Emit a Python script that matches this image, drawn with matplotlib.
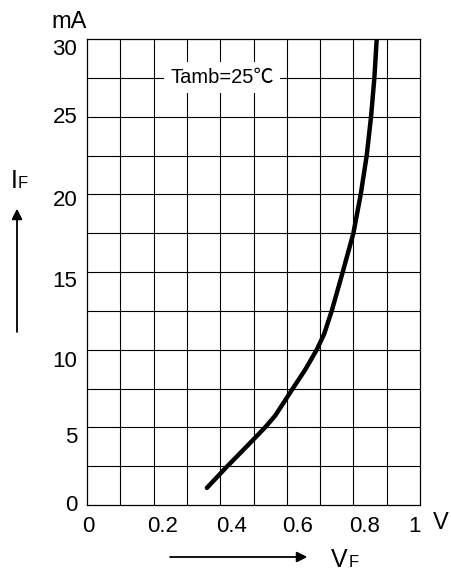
import matplotlib.pyplot as plt
import matplotlib.transforms as mtransforms
import numpy as np

plt.rcParams['font.family'] = ['Liberation Sans', 'Noto Sans CJK SC', 'DejaVu Sans']

# Forward voltage (V) vs forward current (mA)
vf = [0.36, 0.417, 0.49, 0.535, 0.565, 0.60, 0.618, 0.655, 0.69, 0.712, 0.735,
      0.768, 0.80, 0.822, 0.84, 0.853, 0.863, 0.87]
i_f = [1.1, 2.4, 4.0, 5.0, 5.75, 6.9, 7.5, 8.7, 10.0, 11.0, 12.5,
       15.0, 17.5, 20.0, 22.5, 25.0, 27.5, 30.0]

x_ticks = [0, 0.2, 0.4, 0.6, 0.8, 1.0]
x_labels = ["0", "0.2", "0.4", "0.6", "0.8", "1"]
y_ticks = [0, 5, 10, 15, 20, 25, 30]
y_labels = ["0", "5", "10", "15", "20", "25", "30"]

fig = plt.figure(figsize=(4.51, 5.72), dpi=100)
ax = fig.add_axes([87 / 451, 1 - 505 / 572, 333 / 451, 466 / 572])

ax.set_xlim(0, 1)
ax.set_ylim(0, 30)

# grid every 0.1 V and 2.5 mA
for x in np.arange(0.1, 1.0, 0.1):
    ax.axvline(x, color='black', lw=0.8, zorder=1)
for y in np.arange(2.5, 30, 2.5):
    ax.axhline(y, color='black', lw=0.8, zorder=1)
for s in ax.spines.values():
    s.set_color('black')
    s.set_linewidth(0.9)

ax.plot(vf, i_f, color='black', lw=3.2, solid_capstyle='round',
        solid_joinstyle='round', zorder=3)

ax.set_xticks(x_ticks)
ax.set_xticklabels(x_labels, fontsize=16)
ax.set_yticks(y_ticks)
ax.set_yticklabels(y_labels, fontsize=16)
ax.tick_params(length=0)
ax.tick_params(axis='x', pad=8)
ax.tick_params(axis='y', pad=7)

# the labels in the original are a bit off their grid lines
x_shift = [1, 9, 11, 11, 11, -5]
for lab, dx in zip(ax.get_xticklabels(), x_shift):
    lab.set_transform(lab.get_transform() + mtransforms.ScaledTranslation(dx / 100, 0, fig.dpi_scale_trans))
y_shift = [2, -8, -9, -7, -4, 2, -8]
for lab, dy in zip(ax.get_yticklabels(), y_shift):
    lab.set_transform(lab.get_transform() + mtransforms.ScaledTranslation(0, dy / 100, fig.dpi_scale_trans))

ax.text(0.405, 27.5, "Tamb=25℃", fontsize=14.5, ha='center', va='center', zorder=4,
        bbox=dict(boxstyle='square,pad=0.3', fc='white', ec='none'))

W, H = 451, 572
fig.text(69 / W, 1 - 22 / H, "mA", fontsize=17, ha='center', va='center')
fig.text(441 / W, 1 - 523 / H, "V", fontsize=17, ha='center', va='center')

# I_F label and arrow
fig.text(11 / W, 1 - 188 / H, "I", fontsize=18, ha='left', va='baseline')
fig.text(18 / W, 1 - 188 / H, "F", fontsize=12, ha='left', va='baseline')
fig.add_artist(plt.annotate("", xy=(17 / W, 1 - 209 / H), xytext=(17 / W, 1 - 332 / H),
                            xycoords='figure fraction', textcoords='figure fraction',
                            arrowprops=dict(arrowstyle='-|>', color='black', lw=1,
                                            mutation_scale=16, shrinkA=0, shrinkB=0)))

# V_F label and arrow
fig.text(331 / W, 1 - 567 / H, "V", fontsize=18, ha='left', va='baseline')
fig.text(349 / W, 1 - 567 / H, "F", fontsize=12, ha='left', va='baseline')
fig.add_artist(plt.annotate("", xy=(307 / W, 1 - 557 / H), xytext=(170 / W, 1 - 557 / H),
                            xycoords='figure fraction', textcoords='figure fraction',
                            arrowprops=dict(arrowstyle='-|>', color='black', lw=1,
                                            mutation_scale=16, shrinkA=0, shrinkB=0)))

plt.savefig("out.png", dpi=100)
